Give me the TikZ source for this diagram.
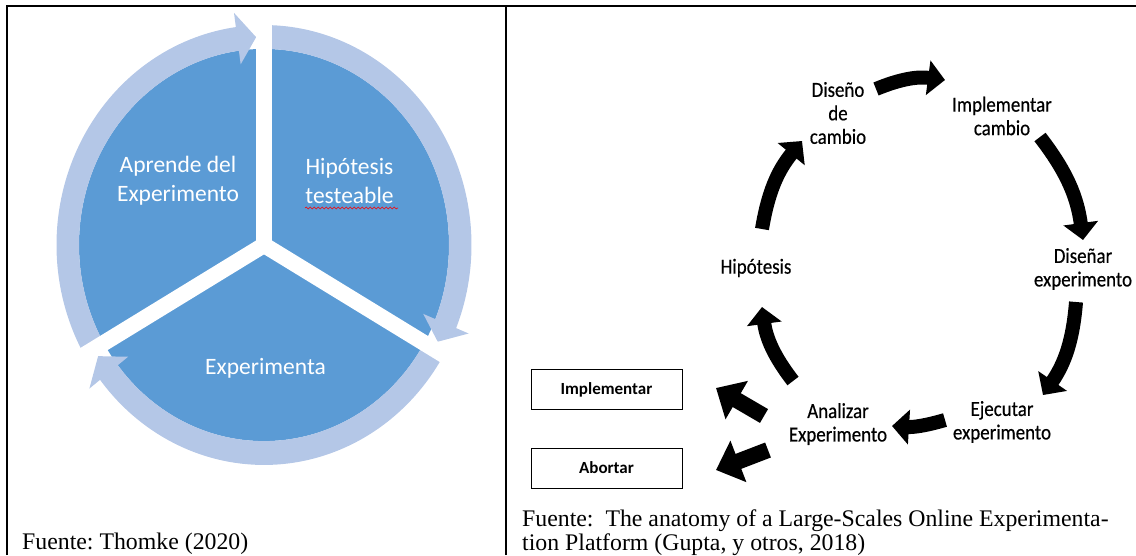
\documentclass[tikz,border=0pt]{standalone}
\usepackage{fontspec}
\setmainfont{Liberation Serif}
\newfontfamily\calfont{Carlito}
\newfontfamily\condfont[FakeStretch=0.88, FakeBold=0.4]{Carlito}
\usetikzlibrary{arrows.meta,decorations.pathmorphing}
\definecolor{sectorblue}{RGB}{91,155,213}
\definecolor{ringblue}{RGB}{180,199,231}
\frenchspacing
\tikzset{
  sectortext/.style={text=white, font=\calfont\fontsize{23.5}{29}\selectfont, align=center, inner sep=0pt},
  cyclabel/.style={font=\condfont\fontsize{21.5}{23.5}\selectfont, align=center, inner sep=0pt},
  outcome/.style={draw, line width=0.8pt, minimum width=151pt, minimum height=40pt, font=\calfont\bfseries\fontsize{17}{20}\selectfont, inner sep=0pt},
  cycarrow/.style={line width=14pt, -{Triangle[width=34pt,length=17pt]}},
  decarrow/.style={line width=16pt, -{Triangle[width=43pt,length=24pt]}},
  captiontext/.style={font=\fontsize{23.8}{24.5}\selectfont, inner sep=0pt},
  framerule/.style={line width=2pt},
  spellmark/.style={red, line width=0.6pt, decorate, decoration={snake, amplitude=0.9pt, segment length=4pt}}
}
\begin{document}
\begin{tikzpicture}[x=1pt,y=1pt]
\useasboundingbox (0,0) rectangle (1136,-555);
% frame
\draw[framerule] (7,-555) -- (7,-6) -- (1136,-6);
\draw[framerule] (506,-555) -- (506,-6);

% ---- left panel: cycle of three sectors ----
\begin{scope}[shift={(264,-245)}, yscale=1.06]
  \fill[sectorblue] (0,0) circle[radius=185];
  \foreach \g in {90,210,330}{
    \pgfmathsetmacro\tipang{\g-120+2.3}
    \pgfmathsetmacro\baseang{\tipang+5.5}
    \fill[ringblue] (\g:207.5) arc[start angle=\g, end angle=\baseang, radius=207.5]
      -- (\baseang:221) -- (\tipang:196.25) -- (\baseang:172) -- (\baseang:185)
      arc[start angle=\baseang, end angle=\g, radius=185] -- cycle;
  }
  \foreach \g in {90,210,330} \draw[white, line width=16pt] (0,0) -- (\g:212);
\end{scope}
\node[sectortext] (aprende) at (178,-180.5) {Aprende del\\Experimento};
\node[sectortext] (hipot) at (349.5,-180.5) {Hipótesis\\testeable};
\node[sectortext] (experimenta) at (265.5,-368) {Experimenta};
\draw[spellmark] (305,-208) -- (398,-208);
\node[captiontext, anchor=base west] (cap1) at (22,-549) {Fuente: Thomke (2020)};

% ---- right panel: experimentation cycle ----
\node[cyclabel] (dis) at (838,-113) {Diseño\\de\\cambio};
\node[cyclabel] (imp) at (1002,-116) {Implementar\\cambio};
\node[cyclabel] (dexp) at (1083,-269) {Diseñar\\experimento};
\node[cyclabel] (hip) at (756,-268) {Hipótesis};
\node[cyclabel] (eje) at (1002,-422) {Ejecutar\\experimento};
\node[cyclabel] (ana) at (838,-424) {Analizar\\Experimento};
\node[outcome] (bimp) at (606.5,-389.5) {Implementar};
\node[outcome] (babo) at (606.5,-468) {Abortar};

\coordinate (a1s) at (876,-89);   \coordinate (a1e) at (945,-80);
\coordinate (a2s) at (1040,-137); \coordinate (a2e) at (1083,-240);
\coordinate (a3s) at (1076,-302); \coordinate (a3e) at (1043,-395);
\coordinate (a4s) at (945,-420);  \coordinate (a4e) at (892,-426);
\coordinate (a5s) at (793,-381);  \coordinate (a5e) at (762,-307);
\coordinate (a6s) at (762,-229);  \coordinate (a6e) at (802,-141);
\coordinate (a7s) at (764,-416);  \coordinate (a7e) at (716,-388);
\coordinate (a8s) at (768,-450);  \coordinate (a8e) at (716,-470);

\draw[cycarrow] (a1s) to[bend left=15] (a1e);
\draw[cycarrow] (a2s) to[bend left=15] (a2e);
\draw[cycarrow] (a3s) to[bend left=15] (a3e);
\draw[cycarrow] (a4s) to[bend left=10] (a4e);
\draw[cycarrow] (a5s) to[bend left=15] (a5e);
\draw[cycarrow] (a6s) to[bend left=15] (a6e);
\draw[decarrow] (a7s) -- (a7e);
\draw[decarrow] (a8s) -- (a8e);

\node[captiontext, anchor=north west, align=left] (cap2) at (522,-509.5)
  {Fuente:\ \ The anatomy of a Large-Scales Online Experimenta-\\tion Platform (Gupta, y otros, 2018)};
\end{tikzpicture}
\end{document}
